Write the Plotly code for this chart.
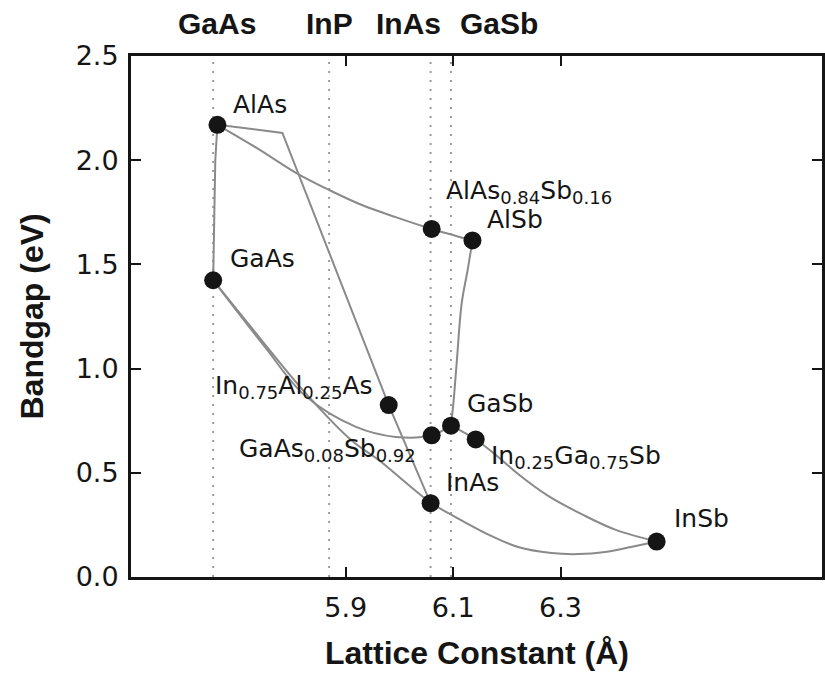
import plotly.graph_objects as go

# ---- compounds: lattice constant (Å) and bandgap (eV) ----
names = ["AlAs", "GaAs", "AlAs|0.84|Sb|0.16", "AlSb",
         "In|0.75|Al|0.25|As", "GaSb", "GaAs|0.08|Sb|0.92",
         "In|0.25|Ga|0.75|Sb", "InAs", "InSb"]
lattice = [5.661, 5.653, 6.060, 6.136, 5.980, 6.096, 6.060, 6.142, 6.058, 6.479]
bandgap = [2.170, 1.424, 1.670, 1.615, 0.825, 0.726, 0.680, 0.660, 0.354, 0.170]

# ---- substrate lattice constants (dotted guides) ----
substrates = ["GaAs", "InP", "InAs", "GaSb"]
substrate_a = [5.653, 5.869, 6.058, 6.096]

# ---- alloy curves (lattice, bandgap) ----
alas_alsb_a = [5.661, 5.734, 5.808, 5.869, 5.930, 5.993, 6.060, 6.136]
alas_alsb_e = [2.170, 2.059, 1.938, 1.857, 1.785, 1.727, 1.670, 1.615]

alas_gaas_a = [5.661, 5.657, 5.653]
alas_gaas_e = [2.170, 2.000, 1.424]

alinas_a = [5.661, 5.782, 5.980, 6.058]
alinas_e = [2.170, 2.131, 0.825, 0.354]

gainas_a = [5.653, 5.743, 5.823, 5.910, 5.966, 6.012, 6.058]
gainas_e = [1.424, 1.137, 0.888, 0.657, 0.552, 0.452, 0.354]

gaassb_a = [5.653, 5.749, 5.823, 5.919, 5.993, 6.060, 6.096]
gaassb_e = [1.424, 1.105, 0.873, 0.720, 0.672, 0.680, 0.726]

inassb_a = [6.058, 6.097, 6.160, 6.221, 6.283, 6.333, 6.383, 6.431, 6.479]
inassb_e = [0.354, 0.298, 0.211, 0.144, 0.115, 0.110, 0.120, 0.144, 0.170]

gainsb_a = [6.096, 6.142, 6.184, 6.221, 6.277, 6.342, 6.403, 6.479]
gainsb_e = [0.726, 0.660, 0.576, 0.494, 0.389, 0.298, 0.226, 0.170]

algasb_a = [6.136, 6.127, 6.116, 6.107, 6.101, 6.096]
algasb_e = [1.615, 1.473, 1.315, 1.041, 0.849, 0.726]

x_ticks = [5.9, 6.1, 6.3]
y_ticks = [0.0, 0.5, 1.0, 1.5, 2.0, 2.5]

LINE = "#8a8a8a"
INK = "#151515"
LABEL_FONT = "DejaVu Sans"
BOLD_FONT = "Liberation Sans"
SUB_SIZE = 18


def formula(name):
    """'AlAs|0.84|Sb|0.16' -> rich text with the numeric parts subscripted."""
    parts = name.split("|")
    out = []
    for i, p in enumerate(parts):
        if i % 2:
            out.append("<sub><span style='font-size:%dpx'>%s</span></sub>" % (SUB_SIZE, p))
        else:
            out.append(p)
    return "".join(out)


fig = go.Figure()

curves = [
    (alas_alsb_a, alas_alsb_e, "spline"),
    (alas_gaas_a, alas_gaas_e, "linear"),
    (alinas_a, alinas_e, "linear"),
    (gainas_a, gainas_e, "spline"),
    (gaassb_a, gaassb_e, "spline"),
    (inassb_a, inassb_e, "spline"),
    (gainsb_a, gainsb_e, "spline"),
    (algasb_a, algasb_e, "spline"),
]
for xs, ys, shape in curves:
    fig.add_trace(go.Scatter(x=xs, y=ys, mode="lines",
                             line=dict(color=LINE, width=2, shape=shape),
                             showlegend=False, hoverinfo="skip"))

fig.add_trace(go.Scatter(x=lattice, y=bandgap, mode="markers",
                         marker=dict(color=INK, size=18),
                         showlegend=False, hoverinfo="skip"))

# dotted guides at the substrate lattice constants
for a in substrate_a:
    fig.add_shape(type="line", xref="x", yref="paper", x0=a, x1=a, y0=0, y1=1,
                  line=dict(color="#9c9c9c", width=2, dash="2px,7px"), layer="below")

# substrate names above the frame (pixel nudges to avoid overlap)
top_shift = {"GaAs": 4, "InP": 0, "InAs": -22, "GaSb": 48}
for name, a in zip(substrates, substrate_a):
    fig.add_annotation(x=a, y=1, xref="x", yref="paper", text="<b>%s</b>" % name,
                       showarrow=False, xanchor="center", yanchor="middle",
                       xshift=top_shift[name], yshift=33,
                       font=dict(family=BOLD_FONT, size=30, color=INK))

# point labels: (anchor, x nudge px, y nudge px)
label_pos = {
    "AlAs": ("left", 14, 20),
    "GaAs": ("left", 15, 22),
    "AlAs|0.84|Sb|0.16": ("left", 12, 37),
    "AlSb": ("left", 13, 21),
    "In|0.75|Al|0.25|As": ("right", -14, 18),
    "GaSb": ("left", 14, 22),
    "GaAs|0.08|Sb|0.92": ("right", -14, -15),
    "In|0.25|Ga|0.75|Sb": ("left", 13, -18),
    "InAs": ("left", 13, 21),
    "InSb": ("left", 15, 23),
}
for name, a, e in zip(names, lattice, bandgap):
    anchor, dx, dy = label_pos[name]
    fig.add_annotation(x=a, y=e, xref="x", yref="y", text=formula(name),
                       showarrow=False, xanchor=anchor, yanchor="middle",
                       xshift=dx, yshift=dy,
                       font=dict(family=LABEL_FONT, size=25, color=INK))

# axis titles
fig.add_annotation(x=0.5, y=0, xref="paper", yref="paper",
                   text="<b>Lattice Constant (Å)</b>", showarrow=False,
                   xanchor="center", yanchor="middle", yshift=-76,
                   font=dict(family=BOLD_FONT, size=32, color=INK))
fig.add_annotation(x=0, y=0.5, xref="paper", yref="paper",
                   text="<b>Bandgap (eV)</b>", showarrow=False, textangle=-90,
                   xanchor="center", yanchor="middle", xshift=-100,
                   font=dict(family=BOLD_FONT, size=32, color=INK))

axis_common = dict(showgrid=False, zeroline=False, showline=True, linecolor=INK,
                   linewidth=3, ticks="inside", ticklen=10, tickwidth=2,
                   tickcolor=INK, mirror="ticks",
                   tickfont=dict(family=LABEL_FONT, size=27, color=INK))

fig.update_xaxes(range=[5.5, 6.787], tickvals=x_ticks,
                 ticktext=["%.1f" % v for v in x_ticks], ticklabelstandoff=5,
                 **axis_common)
fig.update_yaxes(range=[0, 2.5], tickvals=y_ticks,
                 ticktext=["%.1f" % v for v in y_ticks], ticklabelstandoff=4,
                 **axis_common)

fig.update_layout(width=825, height=679,
                  margin=dict(l=131, r=0, t=56, b=102),
                  plot_bgcolor="white", paper_bgcolor="white")

fig.write_html("out.html")
